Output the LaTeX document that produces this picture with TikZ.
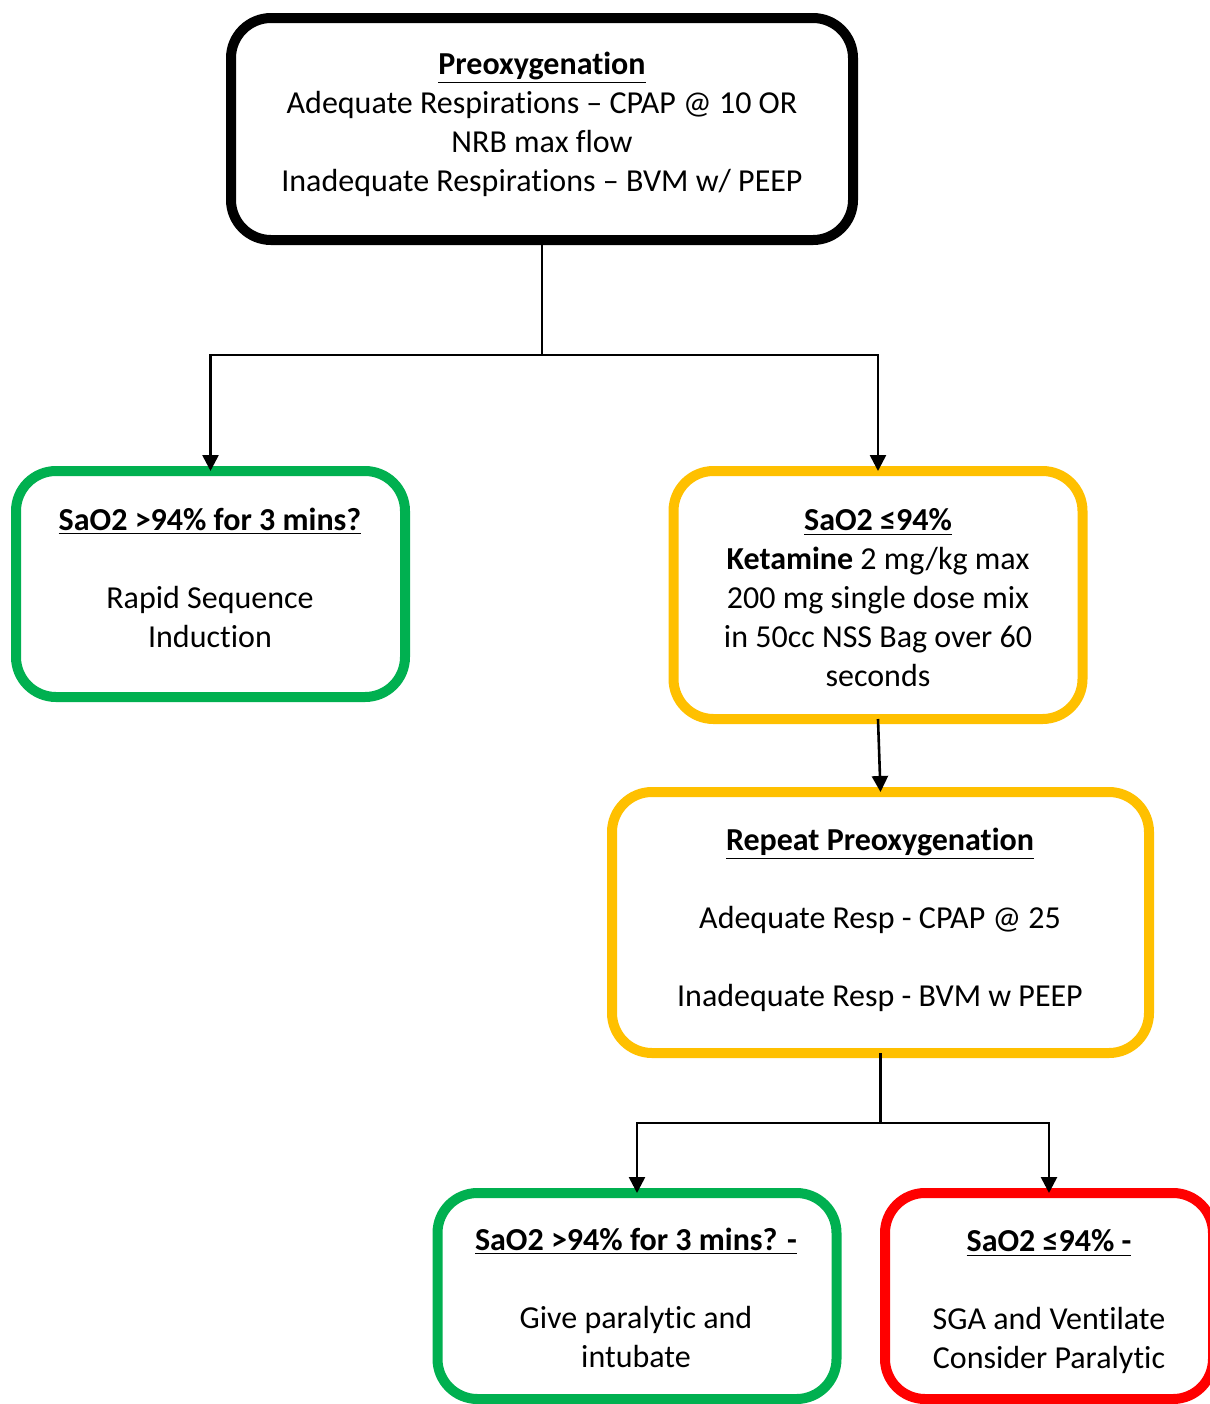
\documentclass[tikz,border=0pt]{standalone}
\usepackage{fontspec}
\setmainfont[Ligatures={NoCommon}]{Carlito}
\usetikzlibrary{arrows.meta}
\definecolor{okgreen}{HTML}{00B050}
\definecolor{caution}{HTML}{FFC000}
\definecolor{alarm}{HTML}{FF0000}
\newcommand{\headline}[1]{\textbf{\underline{#1}}}
\begin{document}
\begin{tikzpicture}[x=0.5pt,y=-0.5pt,
  box/.style={draw, rounded corners=20pt, line width=5pt, fill=white, inner sep=0pt, outer sep=0pt},
  txt/.style={align=center, font=\fontsize{16}{19.5}\selectfont, inner sep=0pt},
  link/.style={line width=1.3pt},
  arr/.style={link, -{Triangle[length=8pt,width=8pt]}}]
\useasboundingbox (0,0) rectangle (1210,1404);

% boxes
\node[box, draw=black, minimum width=311pt, minimum height=111pt] (pre) at (542,129) {};
\node[box, draw=okgreen, minimum width=194.5pt, minimum height=113pt] (rsi) at (210.5,584) {};
\node[box, draw=caution, minimum width=204.5pt, minimum height=124pt] (ket) at (878,595) {};
\node[box, draw=caution, minimum width=268.5pt, minimum height=130.5pt] (rep) at (880.5,922.5) {};
\node[box, draw=okgreen, minimum width=199.5pt, minimum height=103pt] (intub) at (637,1296) {};
\node[box, draw=alarm, minimum width=164pt, minimum height=103pt] (sga) at (1049,1296) {};

% texts
\node[txt] (preT) at (542,124) {\headline{Preoxygenation}\\
  Adequate Respirations – CPAP @ 10 OR\\ NRB max flow\\
  Inadequate Respirations – BVM w/ PEEP};
\node[txt] (rsiT) at (210,578) {\headline{SaO2 >94\% for 3 mins?}\\[19.5pt]
  Rapid Sequence\\ Induction};
\node[txt] (ketT) at (878,598) {\headline{SaO2 ≤94\%}\\
  \textbf{Ketamine} 2 mg/kg max\\ 200 mg single dose mix\\
  in 50cc NSS Bag over 60\\ seconds};
\node[txt] (repT) at (880,920) {\headline{Repeat Preoxygenation}\\[19.5pt]
  Adequate Resp - CPAP @ 25\\[19.5pt]
  Inadequate Resp - BVM w PEEP};
\node[txt] (intubT) at (636,1298) {\headline{SaO2 >94\% for 3 mins? -}\\[19.5pt]
  Give paralytic and\\ intubate};
\node[txt] (sgaT) at (1049,1302) {\headline{SaO2 ≤94\% -}\\[19.5pt]
  SGA and Ventilate\\ Consider Paralytic};

% connectors
\coordinate (s1) at (542,355);
\coordinate (s2) at (880.5,1123);
\draw[link] (pre.south) -- (s1);
\draw[arr] (s1) -| (rsi.north);
\draw[arr] (s1) -| (ket.north);
\draw[arr] (ket.south) -- (rep.north);
\draw[link] (rep.south) -- (s2);
\draw[arr] (s2) -| (intub.north);
\draw[arr] (s2) -| (sga.north);
\end{tikzpicture}
\end{document}
